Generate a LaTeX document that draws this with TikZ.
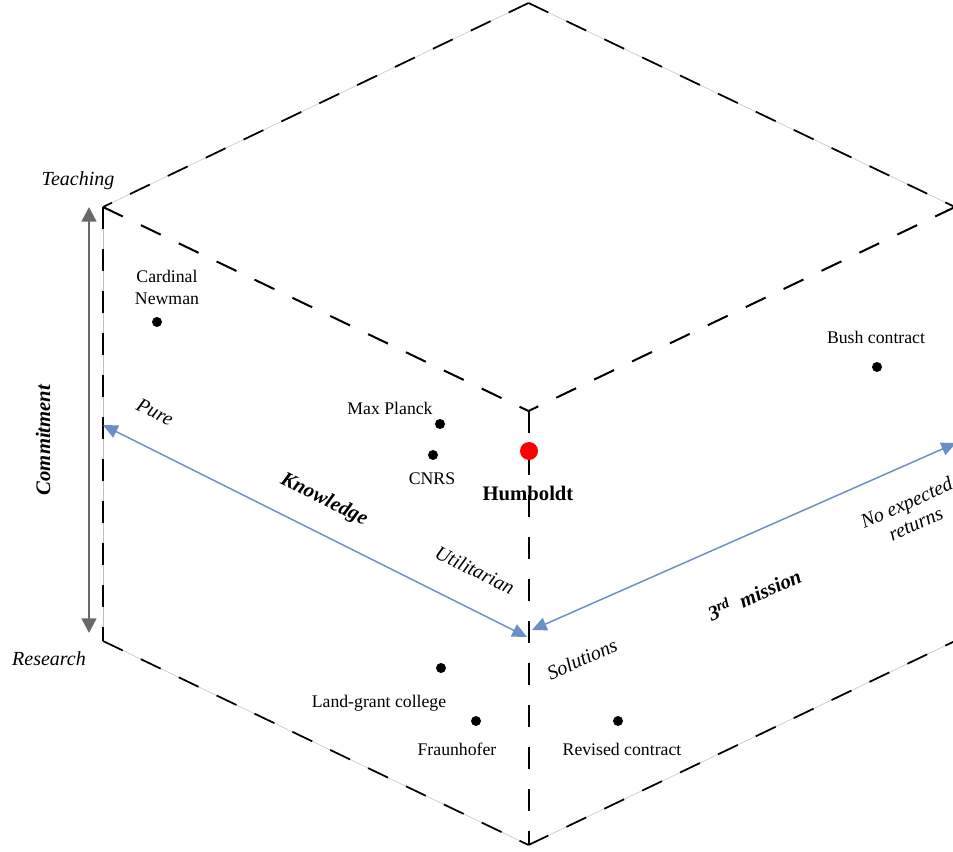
\documentclass[tikz,border=0pt]{standalone}
\usepackage{fontspec}
\setmainfont{Liberation Serif}
\usetikzlibrary{arrows.meta}
\definecolor{arrowblue}{RGB}{106,142,198}
\definecolor{arrowgray}{RGB}{105,105,105}
\definecolor{redpt}{RGB}{255,0,0}
\begin{document}
\begin{tikzpicture}[x=0.75pt,y=-0.75pt,
  edge/.style={draw=black, line width=1.3pt, dash pattern=on 16.5pt off 15pt,
    preaction={draw=black!25, line width=0.4pt, solid}},
  inedge/.style={draw=black, line width=1.5pt, dash pattern=on 16.5pt off 15pt},
  grayarrow/.style={draw=arrowgray, line width=1.9pt,
    {Triangle[length=11pt,width=11pt]}-{Triangle[length=11pt,width=11pt]}},
  bluearrow/.style={draw=arrowblue, line width=1.1pt,
    {Triangle[length=11pt,width=10pt]}-{Triangle[length=11pt,width=10pt]}},
  dot/.style={circle, fill=black, inner sep=0pt, minimum size=7.5pt},
  reddot/.style={circle, fill=redpt, inner sep=0pt, minimum size=13.5pt},
  lab/.style={font=\fontsize{13.3}{16.5}\selectfont, inner sep=0pt, align=center},
  ilab/.style={font=\fontsize{15}{17}\selectfont\itshape, inner sep=0pt, align=center},
  bilab/.style={font=\fontsize{15.5}{18}\selectfont\bfseries\itshape, inner sep=0pt},
  blab/.style={font=\fontsize{15.5}{18}\selectfont\bfseries, inner sep=0pt}]
\useasboundingbox (0,0) rectangle (953,852);
\clip (0,0) rectangle (953,852);
% cube vertices
\coordinate (T) at (528.5,3);
\coordinate (UL) at (103,207);
\coordinate (UR) at (955,207);
\coordinate (C) at (528.5,411);
\coordinate (LL) at (103,641);
\coordinate (LR) at (955,641);
\coordinate (B) at (528.5,845);
\draw[edge] (T) -- (UL);
\draw[edge] (T) -- (UR);
\draw[inedge] (UL) -- (C);
\draw[inedge] (UR) -- (C);
\draw[edge] (UL) -- (LL);
\draw[edge] (LL) -- (B);
\draw[inedge] (C) -- (B);
\draw[edge] (B) -- (LR);
\draw[edge] (UR) -- (LR);
% arrows
\coordinate (ga) at (89,207);
\coordinate (gb) at (89,633);
\draw[grayarrow] (ga) -- (gb);
\coordinate (kp) at (103,425);
\coordinate (ku) at (527,637);
\draw[bluearrow] (kp) -- (ku);
\coordinate (ms) at (532,630);
\coordinate (mn) at (956,443);
\draw[bluearrow] (ms) -- (mn);
% axis labels
\node[ilab] (teach) at (78,181) {Teaching};
\node[ilab] (res) at (49,659) {Research};
\node[bilab, rotate=90] (commit) at (43,440) {Commitment};
\node[ilab, rotate=-26] (pure) at (155,412) {Pure};
\node[bilab, rotate=-26] (know) at (324,500) {Knowledge};
\node[ilab, rotate=-26] (util) at (475,570) {Utilitarian};
\node[ilab, rotate=24] (sol) at (582,659) {Solutions};
\node[bilab, rotate=24] (third) at (754,594) {3\textsuperscript{rd}\ \ mission};
\node[ilab, rotate=24] (noexp) at (911,513) {No expected\\returns};
% points
\node[dot] (cnd) at (157,322) {};
\node[lab] (cn) at (167,287) {Cardinal\\Newman};
\node[dot] (mpd) at (440,424) {};
\node[lab] (mp) at (390,408) {Max Planck};
\node[dot] (cnrsd) at (433,455) {};
\node[lab] (cnrs) at (432,479) {CNRS};
\node[reddot] (hd) at (529,451) {};
\node[blab] (hum) at (528,493) {Humboldt};
\node[dot] (bushd) at (877,367) {};
\node[lab] (bush) at (876,337) {Bush contract};
\node[dot] (lgd) at (441,668) {};
\node[lab] (lg) at (379,703) {Land-grant college};
\node[dot] (frd) at (476,721) {};
\node[lab] (fr) at (457,749) {Fraunhofer};
\node[dot] (rcd) at (618,721) {};
\node[lab] (rc) at (622,749) {Revised contract};
\end{tikzpicture}
\end{document}
